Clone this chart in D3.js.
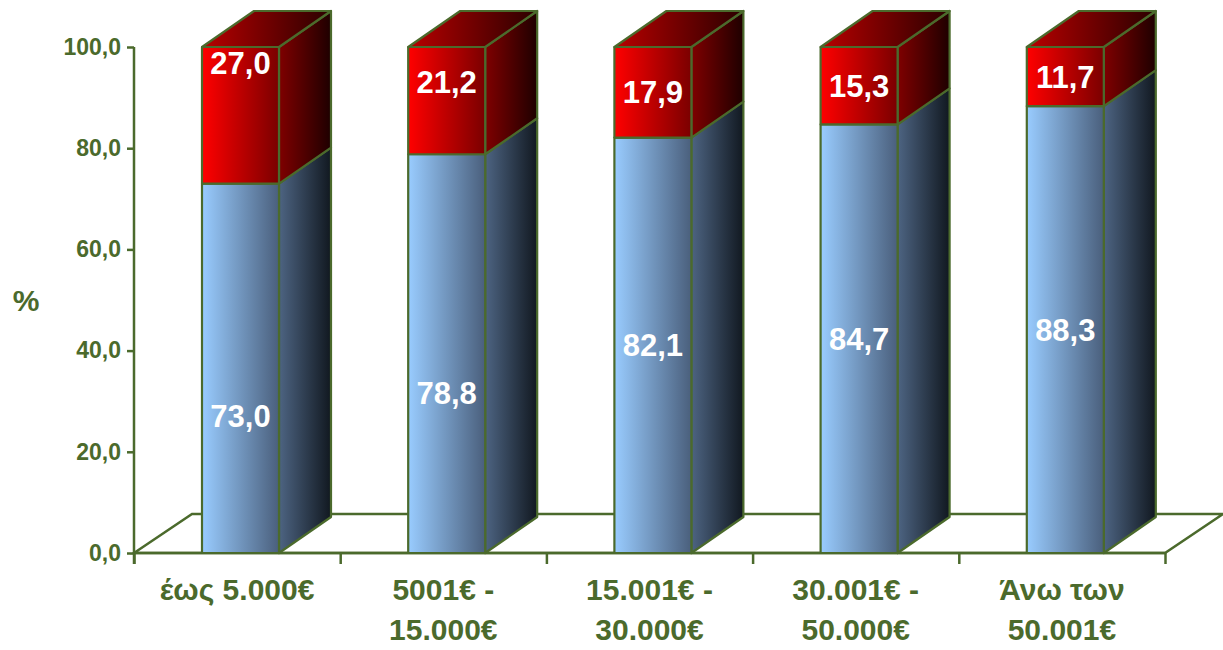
<!DOCTYPE html>
<html>
<head>
<meta charset="utf-8">
<script src="https://cdn.jsdelivr.net/npm/d3@7"></script>
<style>
  html, body { margin: 0; padding: 0; background: #fff; }
  svg { display: block; font-family: "Liberation Sans", Arial, sans-serif; }
</style>
</head>
<body>
<svg id="chart" width="1223" height="650"></svg>
<script>
// Income brackets and the share of each answer (%)
const categories = [
  ["έως 5.000€"],
  ["5001€ -", "15.000€"],
  ["15.001€ -", "30.000€"],
  ["30.001€ -", "50.000€"],
  ["Άνω των", "50.001€"]
];
const blueValues = [73.0, 78.8, 82.1, 84.7, 88.3];
const redValues  = [27.0, 21.2, 17.9, 15.3, 11.7];
const yTicks = [0, 20, 40, 60, 80, 100];

const fmt = v => v.toFixed(1).replace(".", ",");

const svg = d3.select("#chart");
const green = "#4b6a2c";

// Plot frame
const x0 = 134, x1 = 1165;
const y = d3.scaleLinear().domain([0, 100]).range([553, 47]);
const x = d3.scaleLinear().domain([0, categories.length]).range([x0, x1]);

// 3D offsets
const depthX = 52, depthY = -36;      // bar depth
const floorX = 58, floorY = -39;      // floor depth
const barOffset = 68, barWidth = 77;  // front face inside its category slot

// Gradients
const defs = svg.append("defs");
function grad(id, from, to) {
  const g = defs.append("linearGradient").attr("id", id)
    .attr("x1", 0).attr("y1", 0).attr("x2", 1).attr("y2", 0);
  g.append("stop").attr("offset", 0).attr("stop-color", from);
  g.append("stop").attr("offset", 1).attr("stop-color", to);
}
grad("blueFront", "#99ccff", "#4a5f7c");
grad("blueSide", "#4d6482", "#111820");
grad("redFront", "#ff0000", "#7a0000");
grad("redSide", "#7f0000", "#1e0000");
grad("redTop", "#b80000", "#2a0000");

// Floor
const floorPts = [
  [x0, y(0)], [x0 + floorX, y(0) + floorY],
  [x1 + floorX, y(0) + floorY], [x1, y(0)]
];
svg.append("path")
  .attr("d", d3.line()(floorPts) + "Z")
  .attr("fill", "#fff").attr("stroke", green).attr("stroke-width", 2.5)
  .attr("stroke-linejoin", "miter");

// Axes
const yAxis = svg.append("g").attr("transform", `translate(${x0},0)`)
  .call(d3.axisLeft(y).tickValues(yTicks).tickFormat(fmt).tickSize(7).tickPadding(6));
const xAxis = svg.append("g").attr("transform", `translate(0,${y(0)})`)
  .call(d3.axisBottom(x).tickValues(d3.range(categories.length + 1)).tickFormat("").tickSize(11));
[yAxis, xAxis].forEach(a => {
  a.select(".domain").attr("stroke", green).attr("stroke-width", 2.5);
  a.selectAll(".tick line").attr("stroke", green).attr("stroke-width", 2.5);
});
xAxis.select(".domain").attr("d", `M${x0},0H${x1}`);
yAxis.select(".domain").attr("d", `M0,${y(100)}V${y(0) + 11}`);
yAxis.selectAll(".tick text")
  .attr("fill", green).attr("font-size", 23).attr("font-weight", "bold")
  .attr("font-family", "Liberation Sans, Arial, sans-serif");

// Bars
function box(g, xl, yTop, yBot, front, side, top) {
  const xr = xl + barWidth;
  const faces = [
    { pts: [[xr, yTop], [xr + depthX, yTop + depthY], [xr + depthX, yBot + depthY], [xr, yBot]], fill: side },
    { pts: [[xl, yTop], [xr, yTop], [xr, yBot], [xl, yBot]], fill: front }
  ];
  if (top) faces.push({ pts: [[xl, yTop], [xl + depthX, yTop + depthY], [xr + depthX, yTop + depthY], [xr, yTop]], fill: top });
  faces.forEach(f => g.append("path")
    .attr("d", d3.line()(f.pts) + "Z")
    .attr("fill", `url(#${f.fill})`)
    .attr("stroke", green).attr("stroke-width", 2.2).attr("stroke-linejoin", "round"));
}

// Vertical nudges for the first two value labels
const blueNudge = [48, 39, 0, 0, 0];
const redNudge = [-52, -19, 0, 0, 0];

const bars = svg.append("g");
categories.forEach((c, i) => {
  const xl = x(i) + barOffset;
  const g = bars.append("g");
  const b = blueValues[i], r = redValues[i];
  box(g, xl, y(b), y(0), "blueFront", "blueSide", null);
  box(g, xl, y(b + r), y(b), "redFront", "redSide", "redTop");
  const cx = xl + barWidth / 2;
  g.append("text").attr("x", cx).attr("y", (y(b) + y(0)) / 2 + blueNudge[i])
    .attr("dy", "0.36em").attr("text-anchor", "middle")
    .attr("fill", "#fff").attr("font-size", 31).attr("font-weight", "bold")
    .text(fmt(b));
  g.append("text").attr("x", cx).attr("y", (y(b + r) + y(b)) / 2 + redNudge[i])
    .attr("dy", "0.36em").attr("text-anchor", "middle")
    .attr("fill", "#fff").attr("font-size", 31).attr("font-weight", "bold")
    .text(fmt(r));
});

// Category labels
categories.forEach((lines, i) => {
  const t = svg.append("text")
    .attr("x", x(i + 0.5)).attr("y", 600)
    .attr("text-anchor", "middle").attr("fill", green)
    .attr("font-size", 30).attr("font-weight", "bold");
  lines.forEach((l, k) => t.append("tspan").attr("x", x(i + 0.5)).attr("dy", k === 0 ? 0 : 40).text(l));
});

// Axis title
svg.append("text").attr("x", 26).attr("y", 311)
  .attr("text-anchor", "middle").attr("fill", green)
  .attr("font-size", 30).attr("font-weight", "bold").text("%");
</script>
</body>
</html>
